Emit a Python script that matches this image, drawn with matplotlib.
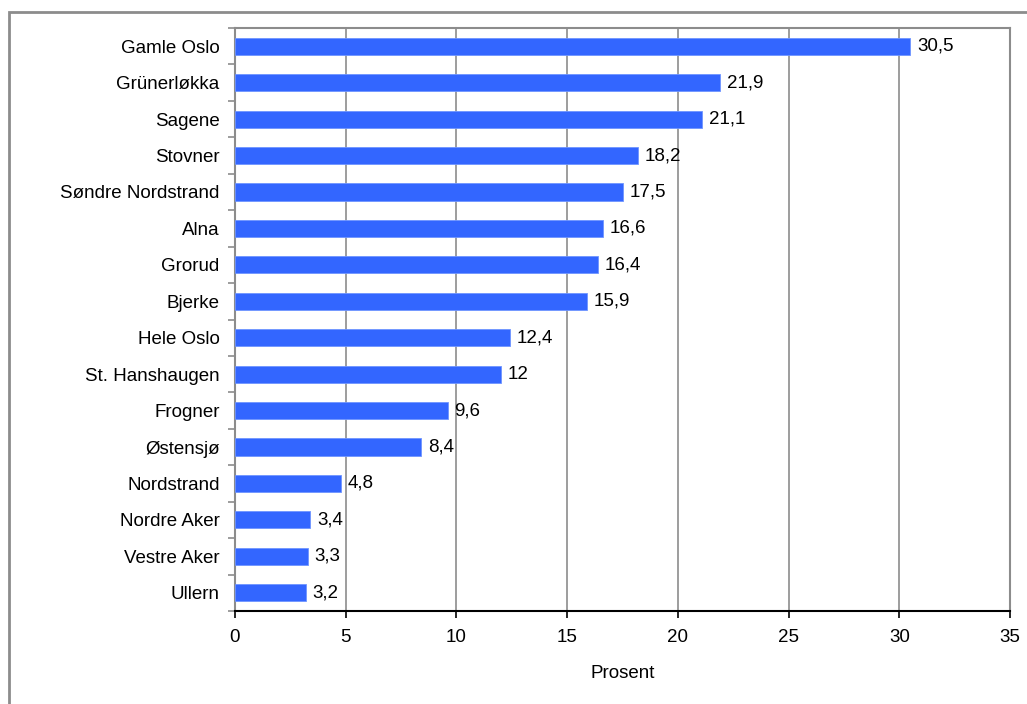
import matplotlib
matplotlib.use("Agg")
import matplotlib.pyplot as plt
from matplotlib.patches import Rectangle

plt.rcParams['font.family'] = ['Liberation Sans', 'DejaVu Sans']

districts = ["Gamle Oslo", "Grünerløkka", "Sagene", "Stovner", "Søndre Nordstrand",
             "Alna", "Grorud", "Bjerke", "Hele Oslo", "St. Hanshaugen", "Frogner",
             "Østensjø", "Nordstrand", "Nordre Aker", "Vestre Aker", "Ullern"]
values = [30.5, 21.9, 21.1, 18.2, 17.5, 16.6, 16.4, 15.9, 12.4, 12, 9.6, 8.4,
          4.8, 3.4, 3.3, 3.2]
value_labels = ["30,5", "21,9", "21,1", "18,2", "17,5", "16,6", "16,4", "15,9",
                "12,4", "12", "9,6", "8,4", "4,8", "3,4", "3,3", "3,2"]
x_ticks = [0, 5, 10, 15, 20, 25, 30, 35]

FS = 13.5

fig = plt.figure(figsize=(10.27, 7.04), dpi=100)
fig.patches.append(Rectangle((8.5 / 1027, -0.05), 1.2, 1 - 11.5 / 704 + 0.05,
                             transform=fig.transFigure, fill=False,
                             edgecolor="#8c8c8c", linewidth=2))

ax = fig.add_axes([235 / 1027, 1 - 611 / 704, (1010 - 235) / 1027, (611 - 28) / 704])
n = len(districts)
ypos = list(range(n))[::-1]
ax.barh(ypos, values, height=0.47, color="#3366ff", edgecolor="#6f95ff",
        linewidth=0.6, zorder=3)
for y, v, lab in zip(ypos, values, value_labels):
    ax.text(v + 0.3, y, lab, va="center", ha="left", fontsize=FS, color="black")

ax.set_xlim(0, 35)
ax.set_ylim(-0.5, n - 0.5)
ax.set_xticks(x_ticks)
ax.set_xticklabels([str(t) for t in x_ticks], fontsize=FS)
ax.set_yticks(ypos)
ax.set_yticklabels(districts, fontsize=FS)
ax.set_yticks([i - 0.5 for i in range(n + 1)], minor=True)
ax.tick_params(axis="y", which="major", length=0, pad=11)
ax.tick_params(axis="y", which="minor", length=5, color="#8c8c8c", width=1.2, direction="out")
ax.tick_params(axis="x", length=5, width=1.2, direction="out", color="black", pad=8)
ax.set_xlabel("Prosent", fontsize=FS, labelpad=14)

ax.grid(axis="x", color="#8c8c8c", linewidth=1.2, zorder=0)
for s in ["top", "right", "left"]:
    ax.spines[s].set_color("#8c8c8c")
    ax.spines[s].set_linewidth(1.5)
ax.spines["bottom"].set_color("black")
ax.spines["bottom"].set_linewidth(1.5)

fig.savefig("out.png", dpi=100)
